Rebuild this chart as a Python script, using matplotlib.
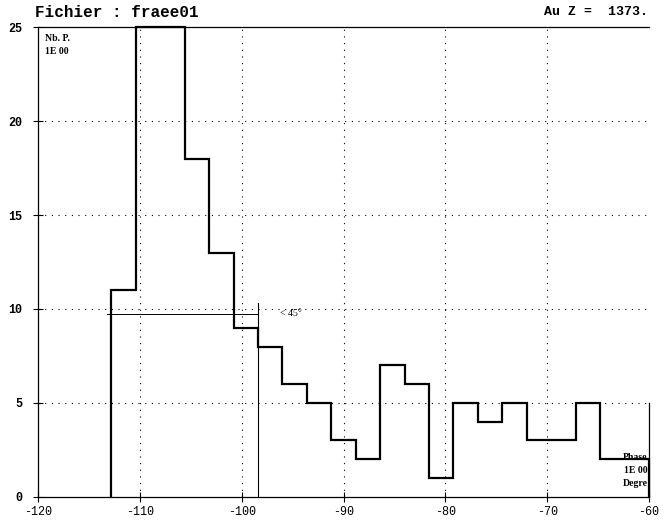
import matplotlib.pyplot as plt
import numpy as np

# bin edges (degrees) and counts
edges = [-112.8, -110.4, -108.0, -105.6, -103.2, -100.8, -98.4, -96.0,
         -93.6, -91.2, -88.8, -86.4, -84.0, -81.6, -79.2, -76.8, -74.4,
         -72.0, -69.6, -67.2, -64.8, -62.4, -60.0]
counts = [11, 25, 25, 18, 13, 9, 8, 6, 5, 3, 2, 7, 6, 1, 5, 4, 5, 3, 3, 5, 2, 2]

xticks = [-120, -110, -100, -90, -80, -70, -60]
yticks = [0, 5, 10, 15, 20, 25]

# marker lines drawn on the original sheet
mark_y = 9.75
mark_x0, mark_x1 = -113.2, -98.4
mark_top = 10.3


def draw_hist():
    plt.rcParams['font.family'] = ['Liberation Mono', 'DejaVu Sans Mono']
    fig = plt.figure(figsize=(6.69, 5.23), dpi=100)
    ax = fig.add_axes([0.057, 0.050, 0.913, 0.898])

    for x in xticks[1:-1]:
        ax.axvline(x, color='k', lw=0.8, ls=(0, (1, 5)), zorder=1)
    for y in yticks[1:-1]:
        ax.axhline(y, color='k', lw=0.8, ls=(0, (1, 5)), zorder=1)

    ax.stairs(counts, edges, color='k', lw=1.6, baseline=0, zorder=3,
              clip_on=False)

    ax.plot([mark_x0, mark_x1], [mark_y, mark_y], color='k', lw=0.7, zorder=2)
    ax.plot([mark_x1, mark_x1], [0, mark_top], color='k', lw=0.8, zorder=2)
    ax.text(-96.2, mark_y, '< 45°', fontsize=7, va='center', zorder=2,
            family='Liberation Serif')

    ax.set_xlim(-120, -60)
    ax.set_ylim(0, 25)
    ax.set_xticks(xticks)
    ax.set_yticks(yticks)
    ax.set_xticklabels([str(t) for t in xticks], fontsize=8.5)
    ax.set_yticklabels([str(t) for t in yticks], fontsize=8.5, fontweight='bold')
    ax.tick_params(direction='inout', length=7, width=0.8, pad=3)
    ax.tick_params(axis='y', pad=8)

    for s in ['left', 'bottom', 'top']:
        ax.spines[s].set_linewidth(0.9)
    ax.spines['right'].set_bounds(0, 5)
    ax.spines['right'].set_linewidth(0.9)

    ax.text(0.012, 0.985, 'Nb. P.\n1E 00', transform=ax.transAxes,
            fontsize=7, fontweight='bold', va='top', ha='left', linespacing=1.5,
            family='Liberation Serif')
    ax.text(0.998, 0.018, 'Phase\n1E 00\nDegre', transform=ax.transAxes,
            fontsize=7, fontweight='bold', va='bottom', ha='right',
            linespacing=1.6, family='Liberation Serif')

    fig.text(0.053, 0.977, 'Fichier : fraee01', fontsize=11.5,
             fontweight='bold', va='center', ha='left')
    fig.text(0.968, 0.977, 'Au Z =  1373.', fontsize=9.5, fontweight='bold',
             va='center', ha='right')

    plt.savefig('out.png')


if __name__ == "__main__":
    draw_hist()
